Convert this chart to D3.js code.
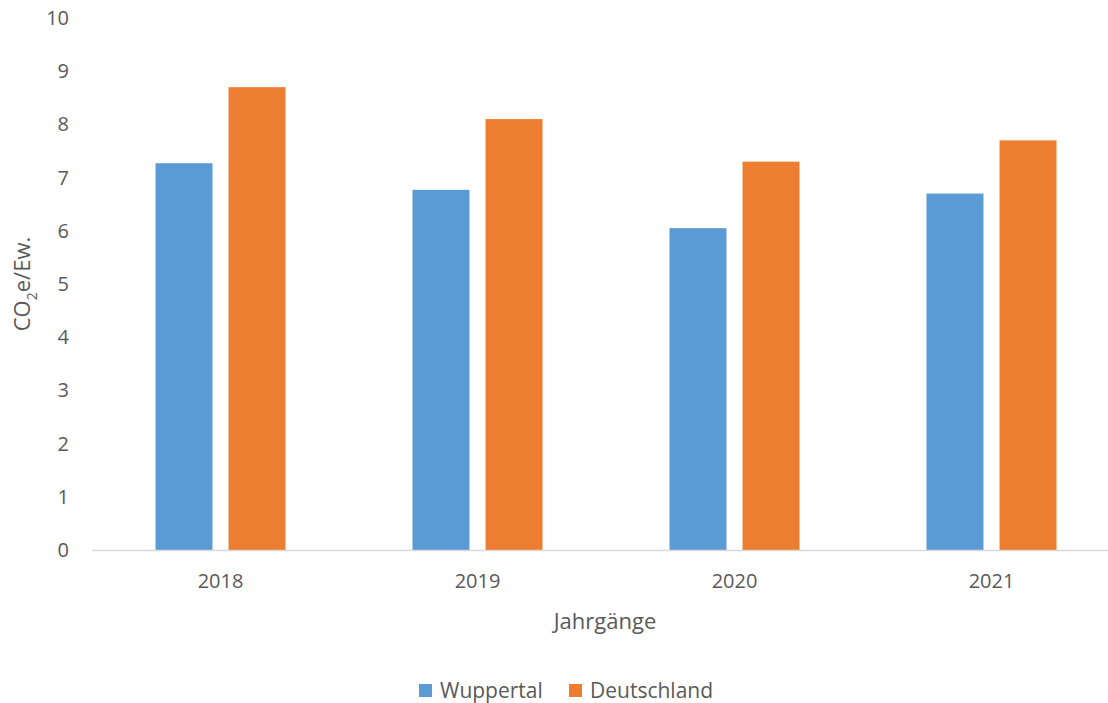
<!DOCTYPE html>
<html>
<head>
<meta charset="utf-8">
<script src="https://cdn.jsdelivr.net/npm/d3@7"></script>
<style>
  html, body { margin: 0; padding: 0; background: #fff; }
  svg { display: block; font-family: "Open Sans", "Noto Sans", sans-serif; }
</style>
</head>
<body>
<svg id="chart" width="1108" height="703"></svg>
<script>
const categories = ["2018", "2019", "2020", "2021"];
const seriesNames = ["Wuppertal", "Deutschland"];
const wuppertal = [7.27, 6.77, 6.05, 6.70];
const deutschland = [8.7, 8.1, 7.3, 7.7];
const yTicks = [0, 1, 2, 3, 4, 5, 6, 7, 8, 9, 10];
const colors = ["#5B9BD5", "#ED7D31"];

const svg = d3.select("#chart");
const textColor = "#595959";

const x = d3.scaleBand().domain(categories).range([92, 1120]).paddingInner(0).paddingOuter(0);
const x1 = d3.scaleBand().domain(seriesNames).range([0, 130]).paddingInner(0.22);
const y = d3.scaleLinear().domain([0, 10]).range([550, 18]);

const data = categories.map((c, i) => ({ cat: c, values: [wuppertal[i], deutschland[i]] }));

// bars
const groups = svg.append("g").selectAll("g").data(data).join("g")
  .attr("transform", d => `translate(${x(d.cat) + x.bandwidth() / 2 - 65},0)`);
groups.selectAll("rect").data(d => d.values.map((v, j) => ({ v, s: seriesNames[j], j })))
  .join("rect")
  .attr("x", d => x1(d.s))
  .attr("width", x1.bandwidth())
  .attr("y", d => y(d.v))
  .attr("height", d => y(0) - y(d.v))
  .attr("fill", d => colors[d.j]);

// x axis line
svg.append("line").attr("x1", 92).attr("x2", 1108).attr("y1", y(0) + 0.5).attr("y2", y(0) + 0.5)
  .attr("stroke", "#D9D9D9").attr("stroke-width", 1.3);

// y tick labels
svg.append("g").selectAll("text").data(yTicks).join("text")
  .attr("x", 69).attr("y", d => y(d)).attr("dy", "0.35em")
  .attr("text-anchor", "end").attr("fill", textColor).attr("font-size", 20)
  .text(d => d);

// x tick labels
svg.append("g").selectAll("text").data(categories).join("text")
  .attr("x", d => x(d) + x.bandwidth() / 2).attr("y", 581).attr("dy", "0.35em")
  .attr("text-anchor", "middle").attr("fill", textColor).attr("font-size", 20)
  .text(d => d);

// x axis title
svg.append("text").attr("x", 605).attr("y", 621).attr("dy", "0.35em")
  .attr("text-anchor", "middle").attr("fill", textColor).attr("font-size", 22)
  .text("Jahrgänge");

// y axis title
const yt = svg.append("text").attr("transform", "translate(22,284) rotate(-90)")
  .attr("text-anchor", "middle").attr("dy", "0.35em").attr("fill", textColor).attr("font-size", 22);
yt.append("tspan").text("CO");
yt.append("tspan").attr("font-size", 14).attr("dy", "0.5em").text("2");
yt.append("tspan").attr("dy", "-0.32em").text("e/Ew.");

// legend
const legend = svg.append("g");
const legendItems = [{ name: seriesNames[0], x: 419 }, { name: seriesNames[1], x: 569 }];
legendItems.forEach((it, i) => {
  legend.append("rect").attr("x", it.x).attr("y", 684).attr("width", 13).attr("height", 13).attr("fill", colors[i]);
  legend.append("text").attr("x", it.x + 21).attr("y", 691).attr("dy", "0.35em")
    .attr("fill", textColor).attr("font-size", 21).text(it.name);
});
</script>
</body>
</html>
